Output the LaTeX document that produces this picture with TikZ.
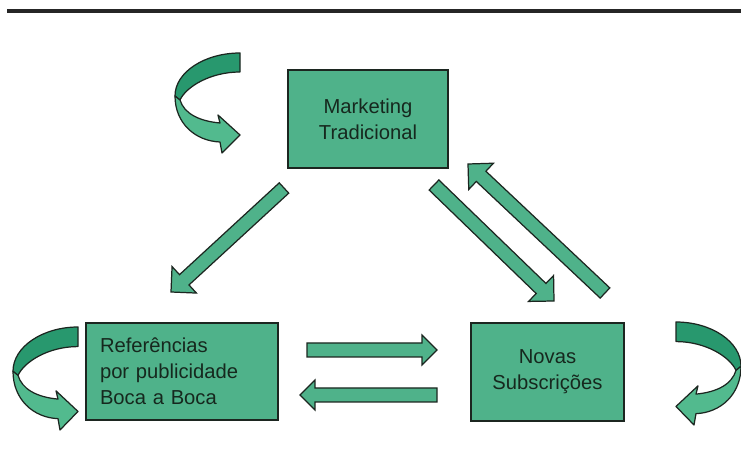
\documentclass[tikz,border=0pt]{standalone}
\usepackage{fontspec}
\setmainfont{Liberation Sans}
\usetikzlibrary{calc}

\definecolor{boxgreen}{RGB}{79,178,138}
\definecolor{bandgreen}{RGB}{40,152,110}
\definecolor{lightgreen}{RGB}{82,186,142}
\definecolor{edge}{RGB}{28,38,32}
\definecolor{ink}{RGB}{22,40,30}

% block arrow from tail centre #2 to tip #3; #1 = head half-width (= head length)
\newcommand\blockarr[3][0.3cm]{%
  \coordinate (ba-h) at ($(#3)!#1!(#2)$);
  \filldraw[flowarrow]
    ($(#2)!0.14cm!90:(#3)$) -- ($(ba-h)!0.14cm!90:(#3)$) -- ($(ba-h)!#1!90:(#3)$)
    -- (#3)
    -- ($(ba-h)!#1!-90:(#3)$) -- ($(ba-h)!0.14cm!-90:(#3)$) -- ($(#2)!0.14cm!-90:(#3)$)
    -- cycle;}

\tikzset{
  box/.style={draw=edge, fill=boxgreen, line width=0.9pt, text=ink,
    font=\fontsize{11.5}{14.8}\selectfont, inner sep=0pt},
  flowarrow/.style={fill=boxgreen, draw=edge, line width=0.7pt, line join=miter},
  ribbon/.style={draw=edge, line width=0.7pt, line join=round},
  % twisted U-turn arrow; origin at the top corner of its open end
  uturn/.pic={
    \filldraw[ribbon, fill=bandgreen]
      (0,0) .. controls (-35,0) and (-65,19) .. (-65,43) -- (-60,47)
      .. controls (-54,34) and (-30,19) .. (0,19) -- cycle;
    \filldraw[ribbon, fill=lightgreen]
      (-65,43) .. controls (-65,70) and (-45,88) .. (-20,89) -- (-18,100)
      -- (0,82) -- (-22,62) -- (-20,70)
      .. controls (-42,68) and (-56,60) .. (-60,47) -- cycle;
  }
}

\begin{document}
\begin{tikzpicture}[x=0.02cm, y=-0.02cm]
  \useasboundingbox[fill=white] (0,0) rectangle (741,472);

  % heading rule
  \draw[line width=0.08cm, draw=black!85] (7,11) -- (741,11);

  % boxes
  \node[box, minimum width=3.2cm, minimum height=1.96cm, align=center]
    (mkt) at (368,119) {Marketing\\Tradicional};
  \node[box, text width=3.28cm, inner xsep=0.28cm, minimum height=1.94cm, align=left]
    (ref) at (182,371.5) {Referências\\por publicidade\\Boca a Boca};
  \node[box, minimum width=3.06cm, minimum height=1.96cm, align=center]
    (nov) at (547.5,372) {Novas\\Subscrições};

  % self-reinforcing loops
  \pic (loopmkt) at (240,53) {uturn};
  \pic[yscale=1.03] (loopref) at (78,327) {uturn};
  \pic[xscale=-1, yscale=1.03] (loopnov) at (676,322) {uturn};

  % arrow end points
  \coordinate (mkt-ref-s) at (284,188);
  \coordinate (mkt-ref-e) at (171,292);
  \coordinate (mkt-nov-s) at (434,185);
  \coordinate (mkt-nov-e) at (554,301);
  \coordinate (nov-mkt-s) at (605,293);
  \coordinate (nov-mkt-e) at (468,164);
  \coordinate (ref-nov-s) at (307,350);
  \coordinate (ref-nov-e) at (437,350);
  \coordinate (nov-ref-s) at (437,395);
  \coordinate (nov-ref-e) at (300,395);

  % flows
  \blockarr[0.36cm]{mkt-ref-s}{mkt-ref-e}
  \blockarr[0.36cm]{mkt-nov-s}{mkt-nov-e}
  \blockarr[0.36cm]{nov-mkt-s}{nov-mkt-e}
  \blockarr[0.3cm]{ref-nov-s}{ref-nov-e}
  \blockarr[0.3cm]{nov-ref-s}{nov-ref-e}
\end{tikzpicture}
\end{document}
